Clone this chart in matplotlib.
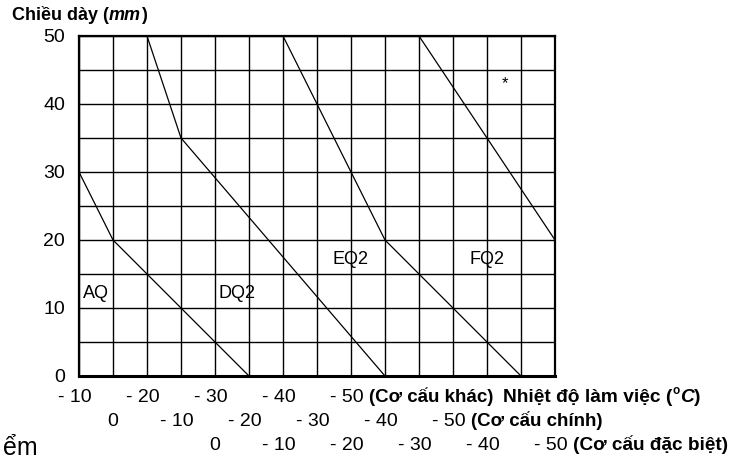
import matplotlib
matplotlib.use("Agg")
import matplotlib.pyplot as plt
from matplotlib import transforms

plt.rcParams['font.family'] = ['Liberation Sans', 'DejaVu Sans']

# temperature axis is the "Co cau khac" scale: -10 at left, -80 at right
# each curve: temperatures and plate thickness (mm)
aq_t = [-10, -15, -35]
aq_y = [30, 20, 0]
dq2_t = [-20, -25, -55]
dq2_y = [50, 35, 0]
eq2_t = [-40, -55, -75]
eq2_y = [50, 20, 0]
fq2_t = [-60, -80]
fq2_y = [50, 20]

curve_names = ['AQ', 'DQ2', 'EQ2', 'FQ2']
name_t = [-10.6, -30.5, -47.3, -67.5]
name_y = [12.2, 12.2, 17.2, 17.2]

# three temperature scales shown under the chart
khac_ticks = [-10, -20, -30, -40, -50]
chinh_ticks = [0, -10, -20, -30, -40, -50]
chinh_shift = -15
dacbiet_ticks = [0, -10, -20, -30, -40, -50]
dacbiet_shift = -30

thick_ticks = [0, 10, 20, 30, 40, 50]

W, H = 732, 461
fig = plt.figure(figsize=(W / 100, H / 100), dpi=100)
ax = fig.add_axes([79 / W, 1 - 376 / H, (555 - 79) / W, (376 - 36) / H])

for t, y in [(aq_t, aq_y), (dq2_t, dq2_y), (eq2_t, eq2_y), (fq2_t, fq2_y)]:
    ax.plot(t, y, color='black', lw=0.9, zorder=3)

for name, t, y in zip(curve_names, name_t, name_y):
    ax.text(t, y, name, fontsize=13, ha='left', va='center', zorder=4)

ax.text(-72.7, 43.0, '*', fontsize=12, ha='center', va='center')

ax.set_xlim(-10, -80)
ax.set_ylim(0, 50)
ax.set_xticks(range(-10, -81, -5))
ax.set_xticklabels([])
ax.set_yticks(thick_ticks)
ax.set_yticklabels([str(v) for v in thick_ticks], fontsize=14)
ax.set_yticks(range(0, 51, 5), minor=True)
ax.tick_params(which='both', length=0)
ax.tick_params(axis='y', pad=10)
ax.grid(True, which='both', color='black', lw=1.0)
ax.set_axisbelow(True)
ax.spines['top'].set_linewidth(1.6)
ax.spines['bottom'].set_linewidth(2.2)
ax.spines['left'].set_linewidth(1.6)
ax.spines['right'].set_linewidth(1.6)

trans = transforms.blended_transform_factory(ax.transData, ax.transAxes)


def lab(v):
    return '0' if v == 0 else '- %d' % abs(v)


def tick_row(ticks, shift, dy):
    last = None
    for v in ticks:
        off = 0 if v == 0 else -4
        last = ax.annotate(lab(v), xy=(v + shift, 0), xycoords=trans,
                           xytext=(off, -dy), textcoords='offset pixels',
                           ha='center', va='center', fontsize=14)
    return last


def chain(prev, pieces, gap=4):
    # pieces: (text, weight, style, size, rise)
    for txt, weight, style, size, rise in pieces:
        prev = ax.annotate(txt, xy=(1, 0), xycoords=prev,
                           xytext=(gap, rise), textcoords='offset pixels',
                           ha='left', va='bottom', fontsize=size,
                           fontweight=weight, fontstyle=style,
                           annotation_clip=False)
        gap = 0
    return prev


r1 = tick_row(khac_ticks, 0, 22)
r1 = chain(r1, [('(Cơ cấu khác)', 'bold', 'normal', 13.5, 0)], gap=5)
chain(r1, [('Nhiệt độ làm việc (', 'bold', 'normal', 13.8, 0),
           ('o', 'bold', 'normal', 8.5, 9),
           ('C', 'bold', 'italic', 13.8, -9),
           (')', 'bold', 'normal', 13.8, 0)], gap=10)

r2 = tick_row(chinh_ticks, chinh_shift, 45)
chain(r2, [('(Cơ cấu chính)', 'bold', 'normal', 13.5, 0)], gap=5)

r3 = tick_row(dacbiet_ticks, dacbiet_shift, 69)
chain(r3, [('(Cơ cấu đặc biệt)', 'bold', 'normal', 13.7, 0)], gap=5)

fig.text(3 / W, 1 - 448 / H, 'ểm', fontsize=18, ha='left', va='center')

yl = fig.text(12 / W, 1 - 15 / H, 'Chiều dày (', fontsize=13,
              fontweight='bold', ha='left', va='center')
chain(yl, [('mm', 'bold', 'italic', 13, 0),
           (')', 'bold', 'normal', 13, 0)], gap=0)

fig.savefig('out.png', dpi=100)
